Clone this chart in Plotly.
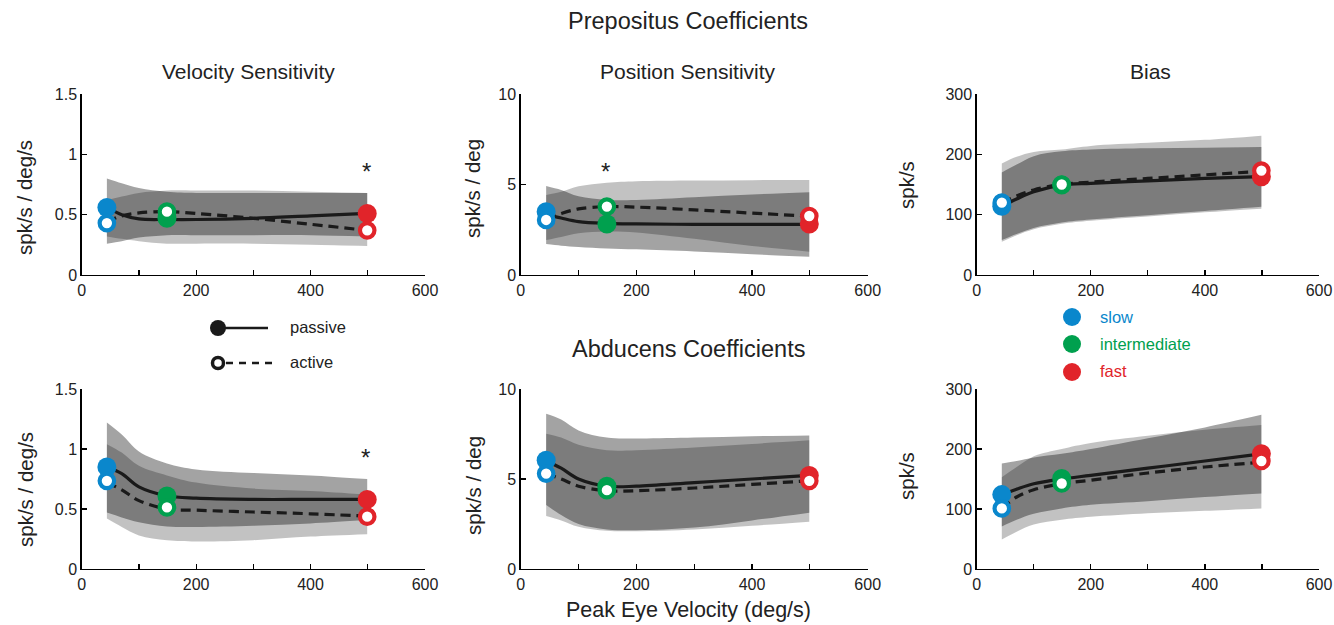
import plotly.graph_objects as go

W, H = 1334, 625
FONT = "Liberation Sans, Arial, sans-serif"
BLUE, GREEN, RED = "#0a87cc", "#00a04e", "#e1242a"
SPEED_COLORS = [BLUE, GREEN, RED]
SPEED_NAMES = ["slow", "intermediate", "fast"]

# ---- data -------------------------------------------------------------
X_SPEED = [44, 149, 499]
X_GRID = [44, 70, 100, 149, 200, 300, 400, 499]

# Prepositus - velocity sensitivity
pv_pas = [0.56, 0.47, 0.51]
pv_act = [0.43, 0.525, 0.37]
pv_pas_line = [0.56, 0.50, 0.465, 0.46, 0.46, 0.47, 0.49, 0.51]
pv_act_line = [0.44, 0.49, 0.515, 0.525, 0.51, 0.47, 0.42, 0.37]
pv_m_up = [0.80, 0.76, 0.72, 0.69, 0.68, 0.68, 0.68, 0.68]
pv_m_lo = [0.26, 0.28, 0.31, 0.33, 0.33, 0.33, 0.33, 0.32]
pv_l_up = [0.62, 0.65, 0.68, 0.70, 0.70, 0.70, 0.69, 0.68]
pv_l_lo = [0.32, 0.30, 0.28, 0.26, 0.26, 0.26, 0.25, 0.24]

# Prepositus - position sensitivity
pp_pas = [3.5, 2.82, 2.82]
pp_act = [3.04, 3.78, 3.26]
pp_pas_line = [3.35, 3.15, 2.95, 2.85, 2.82, 2.80, 2.80, 2.80]
pp_act_line = [3.1, 3.4, 3.65, 3.78, 3.75, 3.6, 3.42, 3.25]
pp_m_up = [4.92, 4.7, 4.35, 4.15, 4.15, 4.3, 4.45, 4.57]
pp_m_lo = [1.71, 1.62, 1.55, 1.47, 1.42, 1.3, 1.15, 1.01]
pp_l_up = [4.42, 4.6, 4.9, 5.1, 5.18, 5.22, 5.24, 5.25]
pp_l_lo = [1.93, 2.1, 2.3, 2.4, 2.35, 2.0, 1.6, 1.29]

# Prepositus - bias
pb_pas = [114, 149, 163]
pb_act = [120, 150, 173]
pb_pas_line = [114, 126, 138, 149, 152, 156, 160, 163]
pb_act_line = [120, 131, 141, 150, 154, 160, 166, 172]
pb_m_up = [170, 183, 197, 205, 208, 210, 211, 212]
pb_m_lo = [58, 68, 78, 87, 92, 99, 106, 113]
pb_l_up = [185, 196, 204, 208, 214, 219, 224, 231]
pb_l_lo = [55, 66, 76, 85, 90, 97, 104, 110]

# Abducens - velocity sensitivity
av_pas = [0.85, 0.608, 0.58]
av_act = [0.735, 0.514, 0.436]
av_pas_line = [0.85, 0.795, 0.685, 0.61, 0.59, 0.58, 0.58, 0.58]
av_act_line = [0.72, 0.66, 0.57, 0.50, 0.49, 0.475, 0.46, 0.44]
av_m_up = [1.22, 1.12, 0.98, 0.88, 0.83, 0.80, 0.78, 0.75]
av_m_lo = [0.47, 0.43, 0.39, 0.355, 0.35, 0.36, 0.38, 0.41]
av_l_up = [1.04, 0.97, 0.86, 0.78, 0.72, 0.67, 0.65, 0.62]
av_l_lo = [0.42, 0.35, 0.28, 0.24, 0.23, 0.24, 0.27, 0.29]

# Abducens - position sensitivity
ap_pas = [6.04, 4.6, 5.2]
ap_act = [5.3, 4.38, 4.9]
ap_pas_line = [6.0, 5.6, 5.0, 4.6, 4.6, 4.8, 5.0, 5.2]
ap_act_line = [5.3, 5.0, 4.6, 4.35, 4.35, 4.5, 4.7, 4.9]
ap_m_up = [8.62, 8.3, 7.7, 7.3, 7.25, 7.3, 7.38, 7.42]
ap_m_lo = [3.55, 3.0, 2.5, 2.2, 2.15, 2.3, 2.7, 3.13]
ap_l_up = [7.51, 7.3, 6.9, 6.6, 6.6, 6.75, 6.95, 7.15]
ap_l_lo = [2.95, 2.7, 2.35, 2.12, 2.1, 2.2, 2.4, 2.63]

# Abducens - bias
ab_pas = [124, 151, 192]
ab_act = [101, 142.5, 180]
ab_pas_line = [124, 133, 142, 150, 156, 168, 180, 192]
ab_act_line = [101, 120, 132, 142, 148, 160, 170, 178]
ab_m_up = [176, 180, 186, 192, 200, 218, 236, 257]
ab_m_lo = [71, 82, 92, 101, 107, 113, 120, 126]
ab_l_up = [153, 170, 188, 200, 210, 222, 232, 240]
ab_l_lo = [49, 62, 74, 82, 87, 93, 97, 101]

X_TICKS = [0, 100, 200, 300, 400, 500, 600]
X_TICKTEXT = ["0", "", "200", "", "400", "", "600"]
Y_TICKS_VEL = [0, 0.5, 1, 1.5]
Y_TICKS_POS = [0, 5, 10]
Y_TICKS_BIAS = [0, 100, 200, 300]

panels = [
    dict(pas=pv_pas, act=pv_act, pl=pv_pas_line, al=pv_act_line, mu=pv_m_up, ml=pv_m_lo, lu=pv_l_up, ll=pv_l_lo,
         yt=Y_TICKS_VEL, ymax=1.5, xd=(81.7, 425), yd=(94, 275)),
    dict(pas=pp_pas, act=pp_act, pl=pp_pas_line, al=pp_act_line, mu=pp_m_up, ml=pp_m_lo, lu=pp_l_up, ll=pp_l_lo,
         yt=Y_TICKS_POS, ymax=10, xd=(520.7, 867.7), yd=(94, 275)),
    dict(pas=pb_pas, act=pb_act, pl=pb_pas_line, al=pb_act_line, mu=pb_m_up, ml=pb_m_lo, lu=pb_l_up, ll=pb_l_lo,
         yt=Y_TICKS_BIAS, ymax=300, xd=(976.7, 1319), yd=(94, 275)),
    dict(pas=av_pas, act=av_act, pl=av_pas_line, al=av_act_line, mu=av_m_up, ml=av_m_lo, lu=av_l_up, ll=av_l_lo,
         yt=Y_TICKS_VEL, ymax=1.5, xd=(81.7, 425), yd=(389, 569)),
    dict(pas=ap_pas, act=ap_act, pl=ap_pas_line, al=ap_act_line, mu=ap_m_up, ml=ap_m_lo, lu=ap_l_up, ll=ap_l_lo,
         yt=Y_TICKS_POS, ymax=10, xd=(520.7, 867.7), yd=(389, 569)),
    dict(pas=ab_pas, act=ab_act, pl=ab_pas_line, al=ab_act_line, mu=ab_m_up, ml=ab_m_lo, lu=ab_l_up, ll=ab_l_lo,
         yt=Y_TICKS_BIAS, ymax=300, xd=(976.7, 1319), yd=(389, 569)),
]

MED_FILL = "rgba(0,0,0,0.36)"
LIGHT_FILL = "rgba(0,0,0,0.24)"
LINE_COL = "#1a1a1a"

fig = go.Figure()
layout = {}

for i, p in enumerate(panels, start=1):
    xa = "x" if i == 1 else f"x{i}"
    ya = "y" if i == 1 else f"y{i}"
    common = dict(xaxis=xa, yaxis=ya, showlegend=False, hoverinfo="skip")
    # bands
    for lo, up, col in [(p["ml"], p["mu"], MED_FILL), (p["ll"], p["lu"], LIGHT_FILL)]:
        fig.add_trace(go.Scatter(x=X_GRID, y=lo, mode="lines", line=dict(width=0, shape="spline"), **common))
        fig.add_trace(go.Scatter(x=X_GRID, y=up, mode="lines", line=dict(width=0, shape="spline"),
                                 fill="tonexty", fillcolor=col, **common))
    # curves
    fig.add_trace(go.Scatter(x=X_GRID, y=p["pl"], mode="lines",
                             line=dict(color=LINE_COL, width=3.2, shape="spline"), **common))
    fig.add_trace(go.Scatter(x=X_GRID, y=p["al"], mode="lines",
                             line=dict(color=LINE_COL, width=3.2, shape="spline", dash="10px,6px"), **common))
    # markers
    fig.add_trace(go.Scatter(x=X_SPEED, y=p["pas"], mode="markers",
                             marker=dict(size=19, color=SPEED_COLORS, line=dict(width=0)), **common))
    fig.add_trace(go.Scatter(x=X_SPEED, y=p["act"], mode="markers",
                             marker=dict(size=14.5, color="white", line=dict(width=4.2, color=SPEED_COLORS)), **common))

    axkw = dict(showline=True, linecolor="black", linewidth=1.4, ticks="inside", ticklen=5,
                tickcolor="black", tickwidth=1.2, showgrid=False, zeroline=False, automargin=False,
                ticklabeloverflow="allow",
                tickfont=dict(family=FONT, size=16, color="#222"))
    layout[("xaxis" if i == 1 else f"xaxis{i}")] = dict(
        domain=[p["xd"][0] / W, p["xd"][1] / W], anchor=ya, range=[0, 600],
        tickmode="array", tickvals=X_TICKS, ticktext=X_TICKTEXT, **axkw)
    layout[("yaxis" if i == 1 else f"yaxis{i}")] = dict(
        domain=[1 - p["yd"][1] / H, 1 - p["yd"][0] / H], anchor=xa, range=[0, p["ymax"]],
        tickmode="array", tickvals=p["yt"], ticktext=[f"{v:g}" for v in p["yt"]], **axkw)

# legend overlay axis (pixel coordinates)
layout["xaxis7"] = dict(domain=[0, 1], range=[0, W], visible=False, fixedrange=True, automargin=False)
layout["yaxis7"] = dict(domain=[0, 1], range=[H, 0], visible=False, fixedrange=True, anchor="x7", automargin=False)
lg = dict(xaxis="x7", yaxis="y7", showlegend=False, hoverinfo="skip")
fig.add_trace(go.Scatter(x=[218, 268], y=[328, 328], mode="lines", line=dict(color=LINE_COL, width=2.5), **lg))
fig.add_trace(go.Scatter(x=[218], y=[328], mode="markers", marker=dict(size=16, color=LINE_COL), **lg))
fig.add_trace(go.Scatter(x=[226, 272], y=[363, 363], mode="lines",
                         line=dict(color=LINE_COL, width=2.5, dash="7px,6px"), **lg))
fig.add_trace(go.Scatter(x=[218], y=[363], mode="markers",
                         marker=dict(size=11, color="white", line=dict(width=3.5, color=LINE_COL)), **lg))
fig.add_trace(go.Scatter(x=[1072, 1072, 1072], y=[317, 344, 372], mode="markers",
                         marker=dict(size=18, color=SPEED_COLORS), **lg))

ann = []
def txt(x, y, s, size, color="#222", angle=0, xanchor="center", ref=("paper", "paper")):
    if ref[0] == "paper":
        x, y = x / W, 1 - y / H
    ann.append(dict(x=x, y=y, xref=ref[0], yref=ref[1], text=s, showarrow=False, textangle=angle,
                    xanchor=xanchor, yanchor="middle", font=dict(family=FONT, size=size, color=color)))

txt(688, 21, "Prepositus Coefficients", 23.5)
txt(688, 349, "Abducens Coefficients", 23.5)
txt(688, 610, "Peak Eye Velocity (deg/s)", 21.5)
txt(248, 72, "Velocity Sensitivity", 21)
txt(688, 72, "Position Sensitivity", 21)
txt(1150, 72, "Bias", 21)
txt(25, 198, "spk/s / deg/s", 20.5, angle=-90)
txt(473, 188, "spk/s / deg", 20.5, angle=-90)
txt(906, 185, "spk/s", 20.5, angle=-90)
txt(25, 490, "spk/s / deg/s", 20.5, angle=-90)
txt(473, 485, "spk/s / deg", 20.5, angle=-90)
txt(906, 476, "spk/s", 20.5, angle=-90)
txt(288, 327, "passive", 16.5, xanchor="left")
txt(288, 362, "active", 16.5, xanchor="left")
for name, col, yy in zip(SPEED_NAMES, SPEED_COLORS, [317, 344, 371]):
    txt(1098, yy, name, 16.5, color=col, xanchor="left")
# significance asterisks (data coordinates)
txt(497, 0.86, "*", 24, ref=("x", "y"))
txt(147, 5.7, "*", 24, ref=("x2", "y2"))
txt(496, 0.93, "*", 24, ref=("x4", "y4"))

fig.update_layout(width=W, height=H, margin=dict(l=0, r=0, t=0, b=0, autoexpand=False),
                  paper_bgcolor="white", plot_bgcolor="rgba(0,0,0,0)",
                  annotations=ann, **layout)
fig.write_html("out.html", config={"displayModeBar": False, "staticPlot": True},
               post_script="document.body.style.margin='0';document.body.style.overflow='hidden';")
